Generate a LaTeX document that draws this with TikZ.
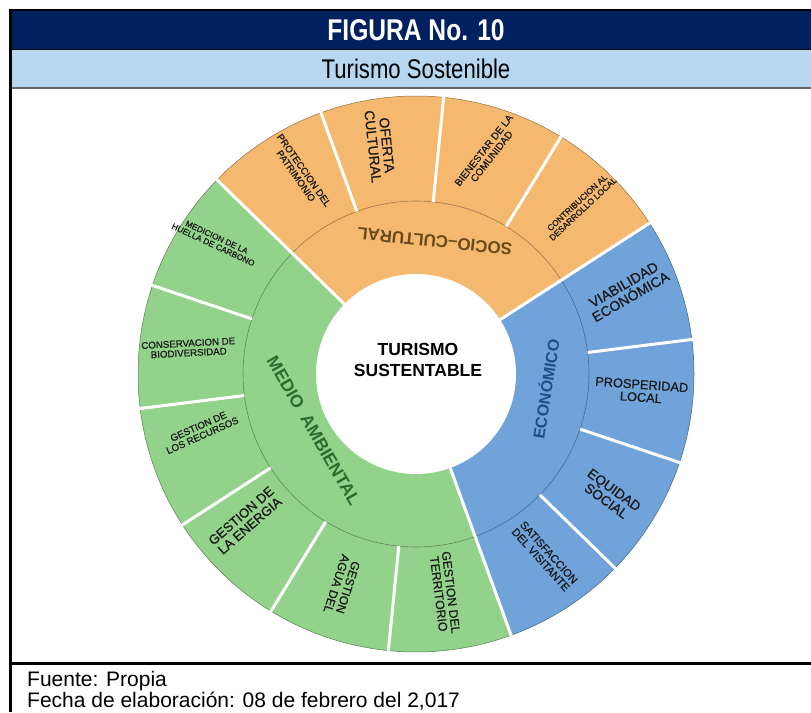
\documentclass[tikz,border=0pt]{standalone}
\usepackage{fontspec}
\setmainfont{Liberation Sans}
\newfontfamily\narrowfont[FakeStretch=0.82]{Liberation Sans}
\newfontfamily\wheelfont[FakeBold=0.6]{Liberation Sans}

\definecolor{bandnavy}{HTML}{002060}
\definecolor{bandsky}{HTML}{B6D7EF}
\definecolor{sociocol}{HTML}{F5B86F}
\definecolor{ambicol}{HTML}{93D28A}
\definecolor{ecocol}{HTML}{70A3D9}
\definecolor{sociotxt}{HTML}{6A4A1C}
\definecolor{ecotxt}{HTML}{1D4F8C}
\definecolor{ambitxt}{HTML}{2D6A2D}

\newcommand{\fsz}[1]{\fontsize{#1}{#1}\selectfont}

\tikzset{
  lbl/.style={font=\wheelfont\fsz{#1}, align=center, inner sep=0pt, text=black!90},
  catlbl/.style={font=\bfseries\fsz{#1}, align=center, inner sep=0pt},
  gap/.style={white, line width=3pt},
}

\begin{document}
\begin{tikzpicture}[x=1pt,y=1pt]
  \useasboundingbox (0,0) rectangle (811,712);

  %% header
  \fill[bandnavy] (10,662) rectangle (811,702);
  \fill[bandsky] (10,624) rectangle (811,662);
  \draw[line width=1pt] (10,662) -- (811,662);
  \draw[black!60, line width=1.5pt] (10,624) -- (811,624);
  \draw[line width=1.5pt] (10,702) -- (811,702);
  \node[text=white, font=\narrowfont\bfseries\fsz{30}] (fig) at (416,682) {FIGURA No. 10};
  \node[font=\narrowfont\fsz{27}] (tit) at (416,643) {Turismo Sostenible};

  %% frame
  \draw[line width=3pt] (10.5,0) -- (10.5,703);
  \draw[line width=3pt] (10,48) -- (811,48);

  %% wheel
  \begin{scope}[shift={(416,338)}]
    % sectors
    \foreach \a/\b/\c in {-70/32.86/ecocol, 32.86/135.71/sociocol, 135.71/290/ambicol}{
      \fill[\c] (0,0) -- (\a:278) arc[start angle=\a, end angle=\b, radius=278] -- cycle;
      \draw[\c!60!black, line width=0.5pt] (\a:278) arc[start angle=\a, end angle=\b, radius=278];
      \draw[\c!65!black, line width=0.6pt] (\a:173) arc[start angle=\a, end angle=\b, radius=173];
    }
    % gaps
    \foreach \t in {-44.29,-18.57,7.14,58.57,84.29,110,161.43,187.14,212.86,238.57,264.29}
      \draw[gap] (\t:173) -- (\t:280);
    \foreach \t in {-70,32.86,135.71}
      \draw[gap] (\t:99) -- (\t:280);
    \fill[white] (0,0) circle (100);

    % centre and rings
    \node[font=\bfseries\fontsize{17.5}{21}\selectfont, align=center, inner sep=0pt] (centro) at (2,14) {TURISMO\\SUSTENTABLE};
    \node[catlbl=17, text=sociotxt, rotate=174] (socio) at (82:134) {SOCIO--CULTURAL};
    \node[catlbl=16, text=ecotxt, rotate=81] (eco) at (-6.6:130) {ECONÓMICO};
    \node[catlbl=17.5, text=ambitxt, rotate=-60] (ambi) at (209:117) {MEDIO\ \ AMBIENTAL};

    % outer segments
    \foreach \ang/\rad/\rot/\sz/\txt [count=\i] in {
        120/232/-55/9.7/{PROTECCION DEL\\PATRIMONIO},
        99/231/-84/14/{OFERTA\\CULTURAL},
        72/232/52/10/{BIENESTAR DE LA\\COMUNIDAD},
        45.7/235/43/8.5/{CONTRIBUCION AL\\DESARROLLO LOCAL},
        21.5/227/30/14/{VIABILIDAD\\ECONÓMICA},
        -4.3/226/-4/12.8/{PROSPERIDAD\\LOCAL},
        -32/229/-36/13.6/{EQUIDAD\\SOCIAL},
        -54.7/223/-48/11/{SATISFACCION\\DEL VISITANTE},
        277.5/221/-83/12.3/{GESTION DEL\\TERRITORIO},
        250.8/224/-108/12/{GESTION\\AGUA DEL},
        220.7/225/41/13.2/{GESTION DE\\LA ENERGIA},
        194.8/223/24/9.8/{GESTION DE\\LOS RECURSOS},
        173.5/229/3/9.7/{CONSERVACION DE\\BIODIVERSIDAD},
        146.5/241/-25/8.3/{MEDICION DE LA\\HUELLA DE CARBONO}}
      \node[lbl=\sz, rotate=\rot] (sub\i) at (\ang:\rad) {\txt};
  \end{scope}

  %% footer
  \node[anchor=base west, inner sep=0pt, font=\fsz{21}] (fuente) at (27,25) {Fuente: Propia};
  \node[anchor=base west, inner sep=0pt, font=\fsz{21}] (fecha) at (27,5) {Fecha de elaboración: 08 de febrero del 2,017};
\end{tikzpicture}
\end{document}
